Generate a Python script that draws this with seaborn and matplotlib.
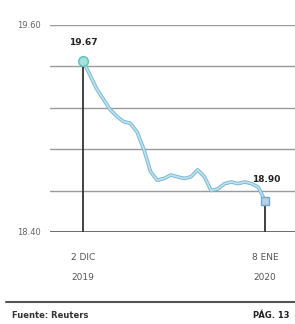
import numpy as np
import pandas as pd
import matplotlib
matplotlib.use("Agg")
import matplotlib.pyplot as plt
import seaborn as sns

# tipo de cambio peso-dolar, 2 dic 2019 - 8 ene 2020
dias = list(range(28))
valores = [19.39, 19.31, 19.23, 19.17, 19.11, 19.07, 19.04, 19.03, 18.98, 18.88,
           18.75, 18.70, 18.71, 18.73, 18.72, 18.71, 18.72, 18.76, 18.72, 18.64,
           18.65, 18.68, 18.69, 18.68, 18.69, 18.68, 18.66, 18.58]
etiqueta_ini = "19.67"
etiqueta_fin = "18.90"
y_ticks = [18.40, 18.64, 18.88, 19.12, 19.36, 19.60]
y_labels = ["18.40", "", "", "", "", "19.60"]
fechas = ["2 DIC", "8 ENE"]
anios = ["2019", "2020"]

df = pd.DataFrame({"dia": dias, "valor": valores})

sns.set_style("white")
plt.rcParams["font.family"] = ["DejaVu Sans"]

fig = plt.figure(figsize=(2.95, 3.24), dpi=100)
ax = fig.add_axes([0.17, 0.284, 0.83, 0.639])

for t in y_ticks[1:]:
    ax.axhline(t, color="#9a9a9a", lw=1.0, zorder=1)
ax.axhline(y_ticks[0], color="#555555", lw=1.2, zorder=1)

# lineas verticales en los extremos
for i in [0, len(dias) - 1]:
    ax.plot([dias[i], dias[i]], [y_ticks[0], valores[i]], color="#333333", lw=1.3, zorder=2)

# linea con borde
sns.lineplot(data=df, x="dia", y="valor", ax=ax, color="#7fb3cc", lw=2.6, zorder=3)
sns.lineplot(data=df, x="dia", y="valor", ax=ax, color="#b5e3f2", lw=1.3, zorder=3)
ax.plot(dias[0], valores[0], "o", ms=7, mfc="#a6e2dc", mec="#5fbfb8", zorder=4)
ax.plot(dias[-1], valores[-1], "s", ms=6, mfc="#b3d2ea", mec="#7aa6cc", zorder=4)

ax.text(dias[0], valores[0] + 0.08, etiqueta_ini, ha="center", va="bottom",
        fontsize=6.5, fontweight="bold", color="#222222")
ax.text(dias[-1] - 2.0, valores[-1] + 0.10, etiqueta_fin, ha="left", va="bottom",
        fontsize=6.5, fontweight="bold", color="#222222")

ax.set_xlim(-4.9, 31.45)
ax.set_ylim(18.40, 19.60)
ax.set_yticks(y_ticks)
ax.set_yticklabels(y_labels, fontsize=6, color="#666666")
ax.tick_params(axis="y", length=0, pad=7)
ax.set_xticks([0, len(dias) - 1])
ax.set_xticklabels([f"{f}\n{a}" for f, a in zip(fechas, anios)],
                   fontsize=6.5, color="#555555", linespacing=2.6)
ax.tick_params(axis="x", length=5, color="#333333", pad=10)
ax.set_xlabel("")
ax.set_ylabel("")
sns.despine(ax=ax, left=True, right=True, top=True, bottom=True)

fig.add_artist(plt.Line2D([0.02, 1.0], [0.068, 0.068], color="#555555", lw=1.5))
fig.text(0.04, 0.02, "Fuente: Reuters", fontsize=6, fontweight="bold", color="#333333")
fig.text(0.98, 0.02, "PÁG. 13", fontsize=6, fontweight="bold", color="#222222", ha="right")

fig.savefig("out.png", dpi=100)
